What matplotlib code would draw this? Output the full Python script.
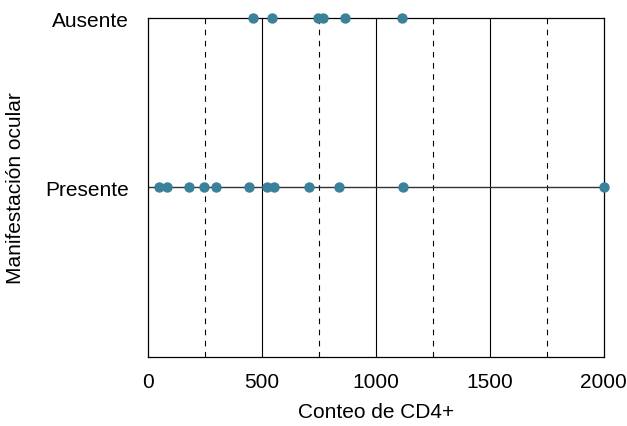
import matplotlib.pyplot as plt

plt.rcParams['font.family'] = ['Liberation Sans', 'DejaVu Sans']

categories = ["Presente", "Ausente"]
ausente_cd4 = [462, 545, 747, 766, 863, 1115]
presente_cd4 = [48, 82, 181, 246, 298, 444, 521, 553, 705, 836, 1120, 2000]

fig = plt.figure(figsize=(6.27, 4.27), dpi=100)
ax = fig.add_axes([0.236, 0.1616, 0.727, 0.7939])

for x in [500, 1000, 1500]:
    ax.axvline(x, color="black", lw=0.8, zorder=1)
for x in [250, 750, 1250, 1750]:
    ax.axvline(x, color="black", lw=0.8, ls=(0, (5, 5)), zorder=1)
ax.axhline(0, color="#333333", lw=1.0, zorder=1)

ax.scatter(presente_cd4, [0] * len(presente_cd4), s=42, color="#3a8199", zorder=3, clip_on=False)
ax.scatter(ausente_cd4, [1] * len(ausente_cd4), s=42, color="#3a8199", zorder=3, clip_on=False)

ax.set_xlim(0, 2000)
ax.set_ylim(-1, 1)
ax.set_xticks([0, 500, 1000, 1500, 2000])
ax.set_yticks([0, 1])
ax.set_yticklabels(categories)
ax.tick_params(axis="y", length=0, labelsize=15, pad=14)
ax.tick_params(axis="x", length=0, labelsize=15, pad=11)
for s in ax.spines.values():
    s.set_linewidth(0.9)
ax.set_xlabel("Conteo de CD4+", fontsize=15, labelpad=8)
ax.set_ylabel("Manifestación ocular", fontsize=15, labelpad=14)

fig.savefig("out.png", dpi=100)
